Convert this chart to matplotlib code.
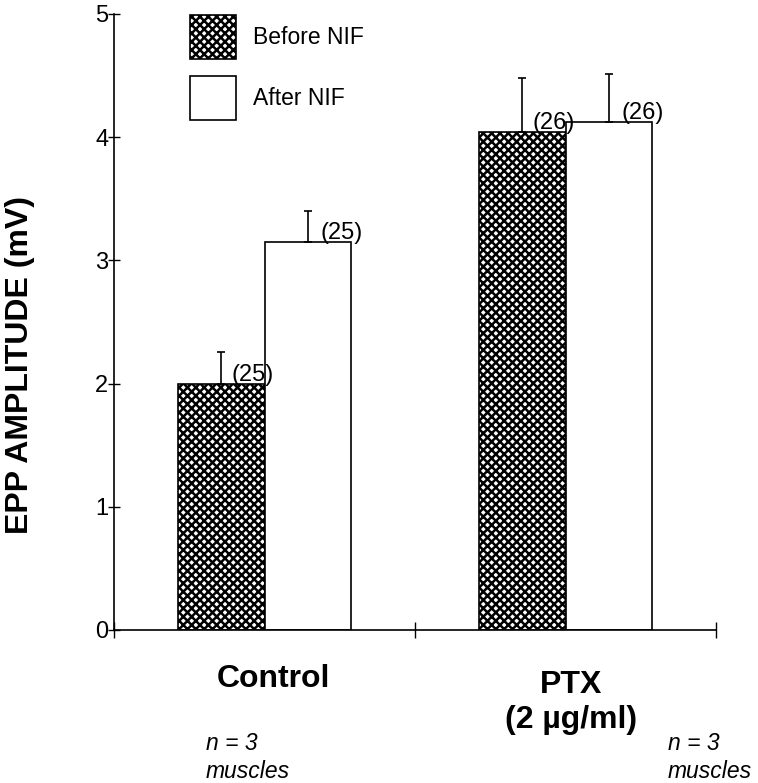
import numpy as np
import matplotlib
matplotlib.use('Agg')
import matplotlib.pyplot as plt
from matplotlib import transforms

plt.rcParams['font.family'] = ['Liberation Sans', 'DejaVu Sans']
plt.rcParams['hatch.linewidth'] = 1.8

groups = ['Control', 'PTX']
series = ['Before NIF', 'After NIF']
before_vals = [2.0, 4.04]
before_err = [0.26, 0.44]
after_vals = [3.15, 4.12]
after_err = [0.25, 0.39]
before_n = ['(25)', '(26)']
after_n = ['(25)', '(26)']
yticks = [0, 1, 2, 3, 4, 5]


def draw_chart():
    fig = plt.figure(figsize=(7.58, 7.83), dpi=100)
    ax = fig.add_axes([114/758, 1-630/783, 602/758, 616/783])

    centers = np.array([0.5, 1.5])
    w = 0.286

    b1 = ax.bar(centers - w/2, before_vals, w, color='white', edgecolor='black',
                hatch='xxxx', linewidth=1.2,
                yerr=[np.zeros(2), before_err], capsize=3,
                error_kw=dict(elinewidth=1.2, capthick=1.2, ecolor='black'))
    b2 = ax.bar(centers + w/2, after_vals, w, color='white', edgecolor='black',
                linewidth=1.2,
                yerr=[np.zeros(2), after_err], capsize=3,
                error_kw=dict(elinewidth=1.2, capthick=1.2, ecolor='black'))

    # n counts next to error bars
    for x, v, s in zip(centers - w/2, before_vals, before_n):
        ax.annotate(s, (x, v), xytext=(10, -2), textcoords='offset pixels',
                    ha='left', va='bottom', fontsize=17)
    for x, v, s in zip(centers + w/2, after_vals, after_n):
        ax.annotate(s, (x, v), xytext=(13, -2), textcoords='offset pixels',
                    ha='left', va='bottom', fontsize=17)

    ax.set_xlim(0, 2)
    ax.set_ylim(0, 5)
    ax.set_yticks(yticks)
    ax.set_xticks([0, 1, 2])
    ax.set_xticklabels([])
    ax.tick_params(axis='y', direction='inout', length=8, width=1, labelsize=17, pad=0)
    ax.tick_params(axis='x', direction='inout', length=12, width=1)
    for s in ['top', 'right']:
        ax.spines[s].set_visible(False)
    for s in ['left', 'bottom']:
        ax.spines[s].set_linewidth(1.2)

    ax.text(-0.156, 0.43, 'EPP AMPLITUDE (mV)', transform=ax.transAxes,
            rotation=90, ha='center', va='center', fontsize=23, fontweight='bold')

    tr = transforms.blended_transform_factory(ax.transData, ax.transAxes)
    ax.text(0.53, -0.079, 'Control', transform=tr, ha='center', va='center',
            fontsize=23, fontweight='bold')
    ax.text(1.52, -0.089, 'PTX', transform=tr, ha='center', va='center',
            fontsize=23, fontweight='bold')
    ax.text(1.52, -0.146, '(2 µg/ml)', transform=tr, ha='center', va='center',
            fontsize=23, fontweight='bold')
    for x in [0.306, 1.84]:
        ax.text(x, -0.185, 'n = 3', transform=tr, ha='left', va='center',
                fontsize=16.5, style='italic')
        ax.text(x, -0.229, 'muscles', transform=tr, ha='left', va='center',
                fontsize=16.5, style='italic')

    fs = 16.5
    px = fs * 100 / 72
    ax.legend([b1, b2], series, loc='upper left',
              bbox_to_anchor=(190/758, 1-15/783), bbox_transform=fig.transFigure,
              frameon=False, fontsize=fs, handlelength=46/px, handleheight=59/px,
              handletextpad=17/px, labelspacing=17/px, borderpad=0, borderaxespad=0)

    fig.savefig('out.png', dpi=100)
    plt.close()


draw_chart()
